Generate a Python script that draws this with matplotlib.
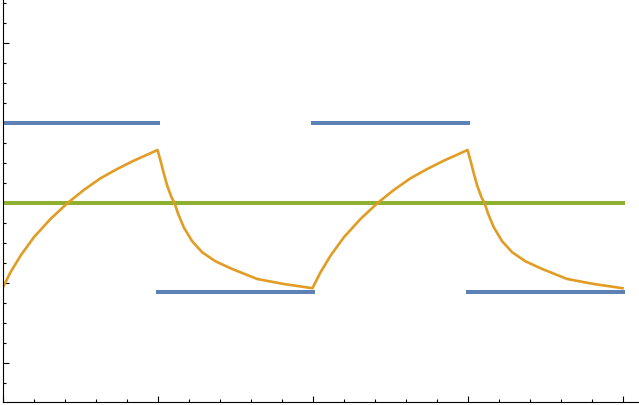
import matplotlib
matplotlib.use('Agg')
import matplotlib.pyplot as plt
from matplotlib.ticker import MultipleLocator

# square wave (blue), mean level (green)
blue_starts = [0, 5, 10, 15]
blue_ends = [5, 10, 15, 20]
blue_levels = [1.0, -1.1125, 1.0, -1.1125]
green_level = 0.0
green_span = [0, 20]

# orange response (two periods)
orange_x = [0, 0.258, 0.581, 1.01, 1.548, 2.087, 2.623, 3.161, 3.7, 4.235, 4.668, 5.0,
            5.097, 5.203, 5.313, 5.452, 5.548, 5.668, 5.848, 6.119, 6.442, 6.871, 7.41, 8.216, 9.074, 10.0,
            10.258, 10.581, 11.01, 11.548, 12.087, 12.623, 13.161, 13.7, 14.235, 14.668, 15.0,
            15.097, 15.203, 15.313, 15.452, 15.548, 15.668, 15.848, 16.119, 16.442, 16.871, 17.41, 18.216,
            19.074, 20.0]
orange_y = [-1.065, -0.866, -0.659, -0.429, -0.2, -0.004, 0.1625, 0.309, 0.425, 0.529, 0.604, 0.6625,
            0.529, 0.37, 0.216, 0.071, 0.0, -0.1375, -0.304, -0.479, -0.616, -0.729, -0.825, -0.95, -1.0125,
            -1.065,
            -0.866, -0.659, -0.429, -0.2, -0.004, 0.1625, 0.309, 0.425, 0.529, 0.604, 0.6625,
            0.529, 0.37, 0.216, 0.071, 0.0, -0.1375, -0.304, -0.479, -0.616, -0.729, -0.825, -0.95,
            -1.0125, -1.065]

blau = '#5E81B5'
gelb = '#E19C24'
gruen = '#8FB131'

fig = plt.figure(figsize=(6.39, 4.06), dpi=100)
ax = fig.add_axes([2.5 / 639, 3 / 406, 1 - 2.5 / 639, 403 / 406])

ax.hlines(blue_levels, blue_starts, blue_ends, colors=blau, linewidth=2.9, capstyle='projecting')
ax.hlines(green_level, green_span[0], green_span[1], colors=gruen, linewidth=2.9, capstyle='projecting')
ax.plot(orange_x, orange_y, color=gelb, linewidth=1.9)

ax.set_xlim(0, 636.5 / 31)
ax.set_ylim(-2.4875, 2.55)

ax.spines['top'].set_visible(False)
ax.spines['right'].set_visible(False)
ax.spines['left'].set_linewidth(0.8)
ax.spines['bottom'].set_linewidth(0.8)

ax.xaxis.set_major_locator(MultipleLocator(5))
ax.xaxis.set_minor_locator(MultipleLocator(1))
ax.yaxis.set_major_locator(MultipleLocator(1))
ax.yaxis.set_minor_locator(MultipleLocator(0.25))
ax.tick_params(which='both', direction='in', labelbottom=False, labelleft=False, width=0.8)
ax.tick_params(which='major', length=4)
ax.tick_params(which='minor', length=2.5)

fig.savefig('out.png', dpi=100)
